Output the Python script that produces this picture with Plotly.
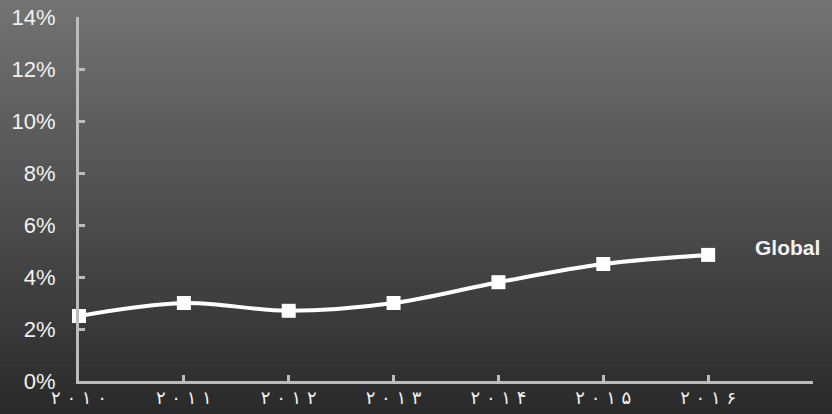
import plotly.graph_objects as go

years = [2010, 2011, 2012, 2013, 2014, 2015, 2016]
values = [2.5, 3.0, 2.7, 3.0, 3.8, 4.5, 4.85]
x_tick_vals = [2010, 2011, 2012, 2013, 2014, 2015, 2016, 2017]
x_tick_text = ["۲ ۰ ۱ ۰", "۲ ۰ ۱ ۱", "۲ ۰ ۱ ۲", "۲ ۰ ۱ ۳", "۲ ۰ ۱ ۴", "۲ ۰ ۱ ۵", "۲ ۰ ۱ ۶", ""]
y_tick_vals = [0, 2, 4, 6, 8, 10, 12, 14]
y_tick_text = ["0%", "2%", "4%", "6%", "8%", "10%", "12%", "14%"]
series_name = "Global"

W, H = 832, 414
ml, mr, mt, mb = 79, 19, 17, 33

fig = go.Figure()
fig.add_trace(go.Scatter(
    x=years, y=values, mode="lines+markers", name=series_name,
    line=dict(color="white", width=4, shape="spline", smoothing=1),
    marker=dict(symbol="square", size=14, color="white"),
    cliponaxis=False, showlegend=False,
))

# vertical gradient background built from strips (paper coords spanning full page)
n = 90
top = (0x73, 0x73, 0x73)
bot = (0x2a, 0x2a, 0x2a)
pw = W - ml - mr
ph = H - mt - mb
y0p = -mb / ph
y1p = 1 + mt / ph
shapes = []
for i in range(n):
    t = i / (n - 1)
    c = tuple(round(top[k] + (bot[k] - top[k]) * t) for k in range(3))
    ya = y1p - (y1p - y0p) * i / n
    yb = y1p - (y1p - y0p) * (i + 1) / n
    if i == 0:
        ya += 0.05
    if i == n - 1:
        yb -= 0.05
    shapes.append(dict(type="rect", xref="paper", yref="paper",
                       x0=-ml / pw - 0.02, x1=1 + mr / pw + 0.02,
                       y0=yb - 0.003, y1=ya + 0.003,
                       fillcolor="rgb(%d,%d,%d)" % c, line=dict(width=0),
                       layer="below"))

fig.update_layout(
    width=W, height=H,
    margin=dict(l=ml, r=mr, t=mt, b=mb, pad=0),
    paper_bgcolor="#4e4e4e", plot_bgcolor="rgba(0,0,0,0)",
    shapes=shapes,
    xaxis=dict(range=[2010, 2017], tickvals=x_tick_vals, ticktext=x_tick_text,
               automargin=False,
               showgrid=False, zeroline=False, showline=True, linecolor="#bcbcbc",
               linewidth=3, ticks="inside", ticklen=6, tickwidth=3, tickcolor="#bcbcbc",
               ticklabelstandoff=-2,
               tickfont=dict(family="DejaVu Sans", size=18, color="#f2f2f2")),
    yaxis=dict(range=[0, 14], tickvals=y_tick_vals, ticktext=y_tick_text,
               automargin=False,
               showgrid=False, zeroline=False, showline=True, linecolor="#bcbcbc",
               linewidth=3, ticks="inside", ticklen=6, tickwidth=3, tickcolor="#bcbcbc",
               ticklabelstandoff=16,
               tickfont=dict(family="Liberation Sans", size=22, color="#f2f2f2")),
    annotations=[dict(text="<b>%s</b>" % series_name, xref="paper", yref="y",
                      x=(753 - ml) / pw, y=5.15, xanchor="left",
                      yanchor="middle", showarrow=False,
                      font=dict(family="Liberation Sans", size=21, color="#f2f2f2"))],
)

fig.write_html("out.html")
